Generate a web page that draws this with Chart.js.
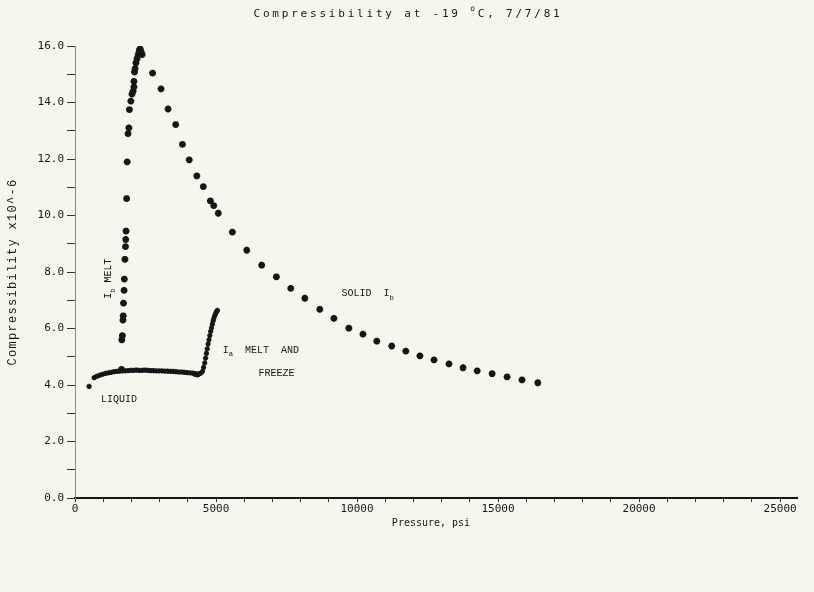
<!DOCTYPE html>
<html>
<head>
<meta charset="utf-8">
<script src="https://cdn.jsdelivr.net/npm/chart.js@4/dist/chart.umd.min.js"></script>
<style>
  html, body { margin: 0; padding: 0; background: #f6f6ee; }
  canvas { display: block; }
</style>
</head>
<body>
<canvas id="c" width="814" height="592"></canvas>
<script>
// Pressure (psi) and compressibility (x10^-6) readings, one pair of arrays per regime.
const liquidP = [500, 680, 780, 880, 980, 1080, 1180, 1280, 1380, 1480, 1580, 1680, 1780, 1880, 1980, 2080,
  2180, 2280, 2380, 2480, 2580, 2680, 2780, 2880, 2980, 3080, 3180, 3280, 3380, 3480, 3580, 3680, 3780,
  3880, 3980, 4080, 4180, 4280, 4380];
const liquidK = [3.95, 4.26, 4.31, 4.35, 4.38, 4.41, 4.43, 4.45, 4.47, 4.48, 4.49, 4.50, 4.50, 4.51, 4.52, 4.52,
  4.53, 4.52, 4.52, 4.53, 4.52, 4.51, 4.51, 4.50, 4.50, 4.50, 4.49, 4.49, 4.48, 4.48, 4.47, 4.46, 4.46,
  4.45, 4.44, 4.43, 4.42, 4.40, 4.38];

const meltAP = [4250, 4330, 4400, 4460, 4520, 4560, 4600, 4630, 4660, 4690, 4720, 4750, 4780, 4810, 4840,
  4870, 4900, 4930, 4960, 4990, 5020, 5050];
const meltAK = [4.38, 4.36, 4.40, 4.42, 4.48, 4.62, 4.78, 4.95, 5.12, 5.28, 5.45, 5.60, 5.75, 5.90, 6.02,
  6.15, 6.28, 6.38, 6.47, 6.54, 6.60, 6.64];

const meltBP = [1650, 1660, 1680, 1700, 1710, 1720, 1740, 1750, 1770, 1790, 1800, 1810, 1830, 1850, 1880,
  1910, 1930, 1980, 2020, 2060, 2090, 2090, 2110, 2130, 2160, 2200, 2240, 2280, 2310, 2340, 2380];
const meltBK = [4.55, 5.60, 5.75, 6.30, 6.45, 6.90, 7.35, 7.75, 8.45, 8.90, 9.15, 9.45, 10.60, 11.90, 12.90,
  13.10, 13.75, 14.05, 14.30, 14.40, 14.55, 14.75, 15.08, 15.20, 15.40, 15.55, 15.70, 15.85, 15.90, 15.80, 15.70];

const solidP = [2750, 3050, 3300, 3570, 3810, 4050, 4320, 4550, 4800, 4920, 5080, 5580, 6090, 6620, 7140,
  7650, 8150, 8680, 9180, 9710, 10210, 10700, 11230, 11730, 12230, 12730, 13260, 13760, 14260, 14790,
  15320, 15850, 16410];
const solidK = [15.04, 14.48, 13.77, 13.22, 12.52, 11.97, 11.40, 11.02, 10.52, 10.35, 10.08, 9.41, 8.77, 8.24, 7.83,
  7.42, 7.07, 6.68, 6.36, 6.01, 5.80, 5.55, 5.38, 5.20, 5.03, 4.89, 4.75, 4.61, 4.50, 4.40,
  4.29, 4.18, 4.08];

// Axis ticks: labelled values and the spacing of the small unlabelled marks between them
const xTickLabels = [0, 5000, 10000, 15000, 20000, 25000];
const xMinorStep = 1000;
const yTickLabels = [0, 2, 4, 6, 8, 10, 12, 14, 16];
const yMinorStep = 1;

const plotFont = '"DejaVu Sans Mono", monospace';
const typeFont = '"Liberation Mono", monospace';
const ink = '#161616';

function pairs(p, k) { return p.map((v, i) => ({ x: v, y: k[i] })); }

function stepTicks(last, step) {
  const out = [];
  for (let v = 0; v <= last + 1e-9; v += step) out.push({ value: v });
  return out;
}

// Draws a run of text pieces, some of them sub- or superscripted.
function drawRuns(ctx, runs, x, y, size, family) {
  let cx = x;
  for (const [t, kind] of runs) {
    const s = kind === 'n' ? size : size * 0.72;
    ctx.font = `${s}px ${family}`;
    const dy = kind === 'sub' ? size * 0.45 : kind === 'sup' ? -size * 0.45 : 0;
    ctx.fillText(t, cx, y + dy);
    cx += ctx.measureText(t).width;
  }
  return cx - x;
}

function runsWidth(ctx, runs, size, family) {
  let w = 0;
  for (const [t, kind] of runs) {
    ctx.font = `${kind === 'n' ? size : size * 0.72}px ${family}`;
    w += ctx.measureText(t).width;
  }
  return w;
}

const decorations = {
  id: 'decorations',
  beforeDraw(chart) {
    const ctx = chart.ctx;
    ctx.save();
    ctx.fillStyle = '#f6f6ee';
    ctx.fillRect(0, 0, chart.width, chart.height);
    ctx.restore();
  },
  afterDraw(chart) {
    const { ctx, scales: { x, y } } = chart;
    ctx.save();
    ctx.fillStyle = ink;
    ctx.textBaseline = 'middle';
    ctx.textAlign = 'left';

    // Title
    ctx.letterSpacing = '2.8px';
    const titleRuns = [['Compressibility at -19 ', 'n'], ['o', 'sup'], ['C, 7/7/81', 'n']];
    const w = runsWidth(ctx, titleRuns, 11, plotFont);
    drawRuns(ctx, titleRuns, 408 - w / 2, 14, 11, plotFont);

    // X axis title
    ctx.letterSpacing = '0px';
    ctx.font = `10px ${plotFont}`;
    ctx.textAlign = 'center';
    ctx.fillText('Pressure, psi', 431, 523);

    // Y axis title
    ctx.save();
    ctx.translate(13, 272);
    ctx.rotate(-Math.PI / 2);
    ctx.letterSpacing = '1.3px';
    ctx.font = `12px ${typeFont}`;
    ctx.fillText('Compressibility x10^-6', 0, 0);
    ctx.restore();

    // Regime notes, placed in data coordinates
    ctx.textAlign = 'left';
    ctx.letterSpacing = '0px';
    drawRuns(ctx, [['LIQUID', 'n']], x.getPixelForValue(920), y.getPixelForValue(3.48), 10, typeFont);
    drawRuns(ctx, [['I', 'n'], ['a', 'sub'], ['  MELT  AND', 'n']], x.getPixelForValue(5240), y.getPixelForValue(5.24), 10, typeFont);
    drawRuns(ctx, [['FREEZE', 'n']], x.getPixelForValue(6510), y.getPixelForValue(4.40), 10, typeFont);
    drawRuns(ctx, [['SOLID  I', 'n'], ['b', 'sub']], x.getPixelForValue(9450), y.getPixelForValue(7.25), 10, typeFont);

    ctx.save();
    ctx.translate(x.getPixelForValue(1200), y.getPixelForValue(7.05));
    ctx.rotate(-Math.PI / 2);
    drawRuns(ctx, [['I', 'n'], ['b', 'sub'], [' MELT', 'n']], 0, 0, 10, typeFont);
    ctx.restore();

    ctx.restore();
  }
};

const small = { pointStyle: 'star', radius: 2.6, borderWidth: 1.6, borderColor: ink, backgroundColor: ink };
const large = { pointStyle: 'star', radius: 3.4, borderWidth: 2.2, borderColor: ink, backgroundColor: ink };

new Chart(document.getElementById('c'), {
  type: 'scatter',
  data: {
    datasets: [
      { label: 'Liquid', data: pairs(liquidP, liquidK), ...small },
      { label: 'Ia melt and freeze', data: pairs(meltAP, meltAK), ...small },
      { label: 'Ib melt', data: pairs(meltBP, meltBK), ...large },
      { label: 'Solid Ib', data: pairs(solidP, solidK), ...large }
    ]
  },
  options: {
    responsive: false,
    animation: false,
    devicePixelRatio: 1,
    layout: { padding: { top: 46, right: 17, left: 0, bottom: 0 } },
    plugins: { legend: { display: false }, tooltip: { enabled: false }, title: { display: false } },
    scales: {
      x: {
        type: 'linear', min: 0, max: 25600,
        afterFit(s) { s.height = 94; },
        afterBuildTicks(s) { s.ticks = stepTicks(xTickLabels[xTickLabels.length - 1], xMinorStep); },
        ticks: {
          autoSkip: false, maxRotation: 0, minRotation: 0, padding: 1,
          callback(v) { return xTickLabels.includes(v) ? String(v) : ''; },
          font: { family: plotFont, size: 11 }, color: ink
        },
        grid: { drawOnChartArea: false, tickLength: 4, color: '#333' },
        border: { color: ink, width: 2 }
      },
      y: {
        type: 'linear', min: 0, max: 16,
        afterFit(s) { s.width = 75; },
        afterBuildTicks(s) { s.ticks = stepTicks(yTickLabels[yTickLabels.length - 1], yMinorStep); },
        ticks: {
          autoSkip: false, padding: 3,
          callback(v) { return yTickLabels.includes(v) ? v.toFixed(1) : ''; },
          font: { family: plotFont, size: 11 }, color: ink
        },
        grid: { drawOnChartArea: false, tickLength: 8, color: '#333' },
        border: { color: '#8a8a8a', width: 1, dash: [2, 3] }
      }
    }
  },
  plugins: [decorations]
});
</script>
</body>
</html>
